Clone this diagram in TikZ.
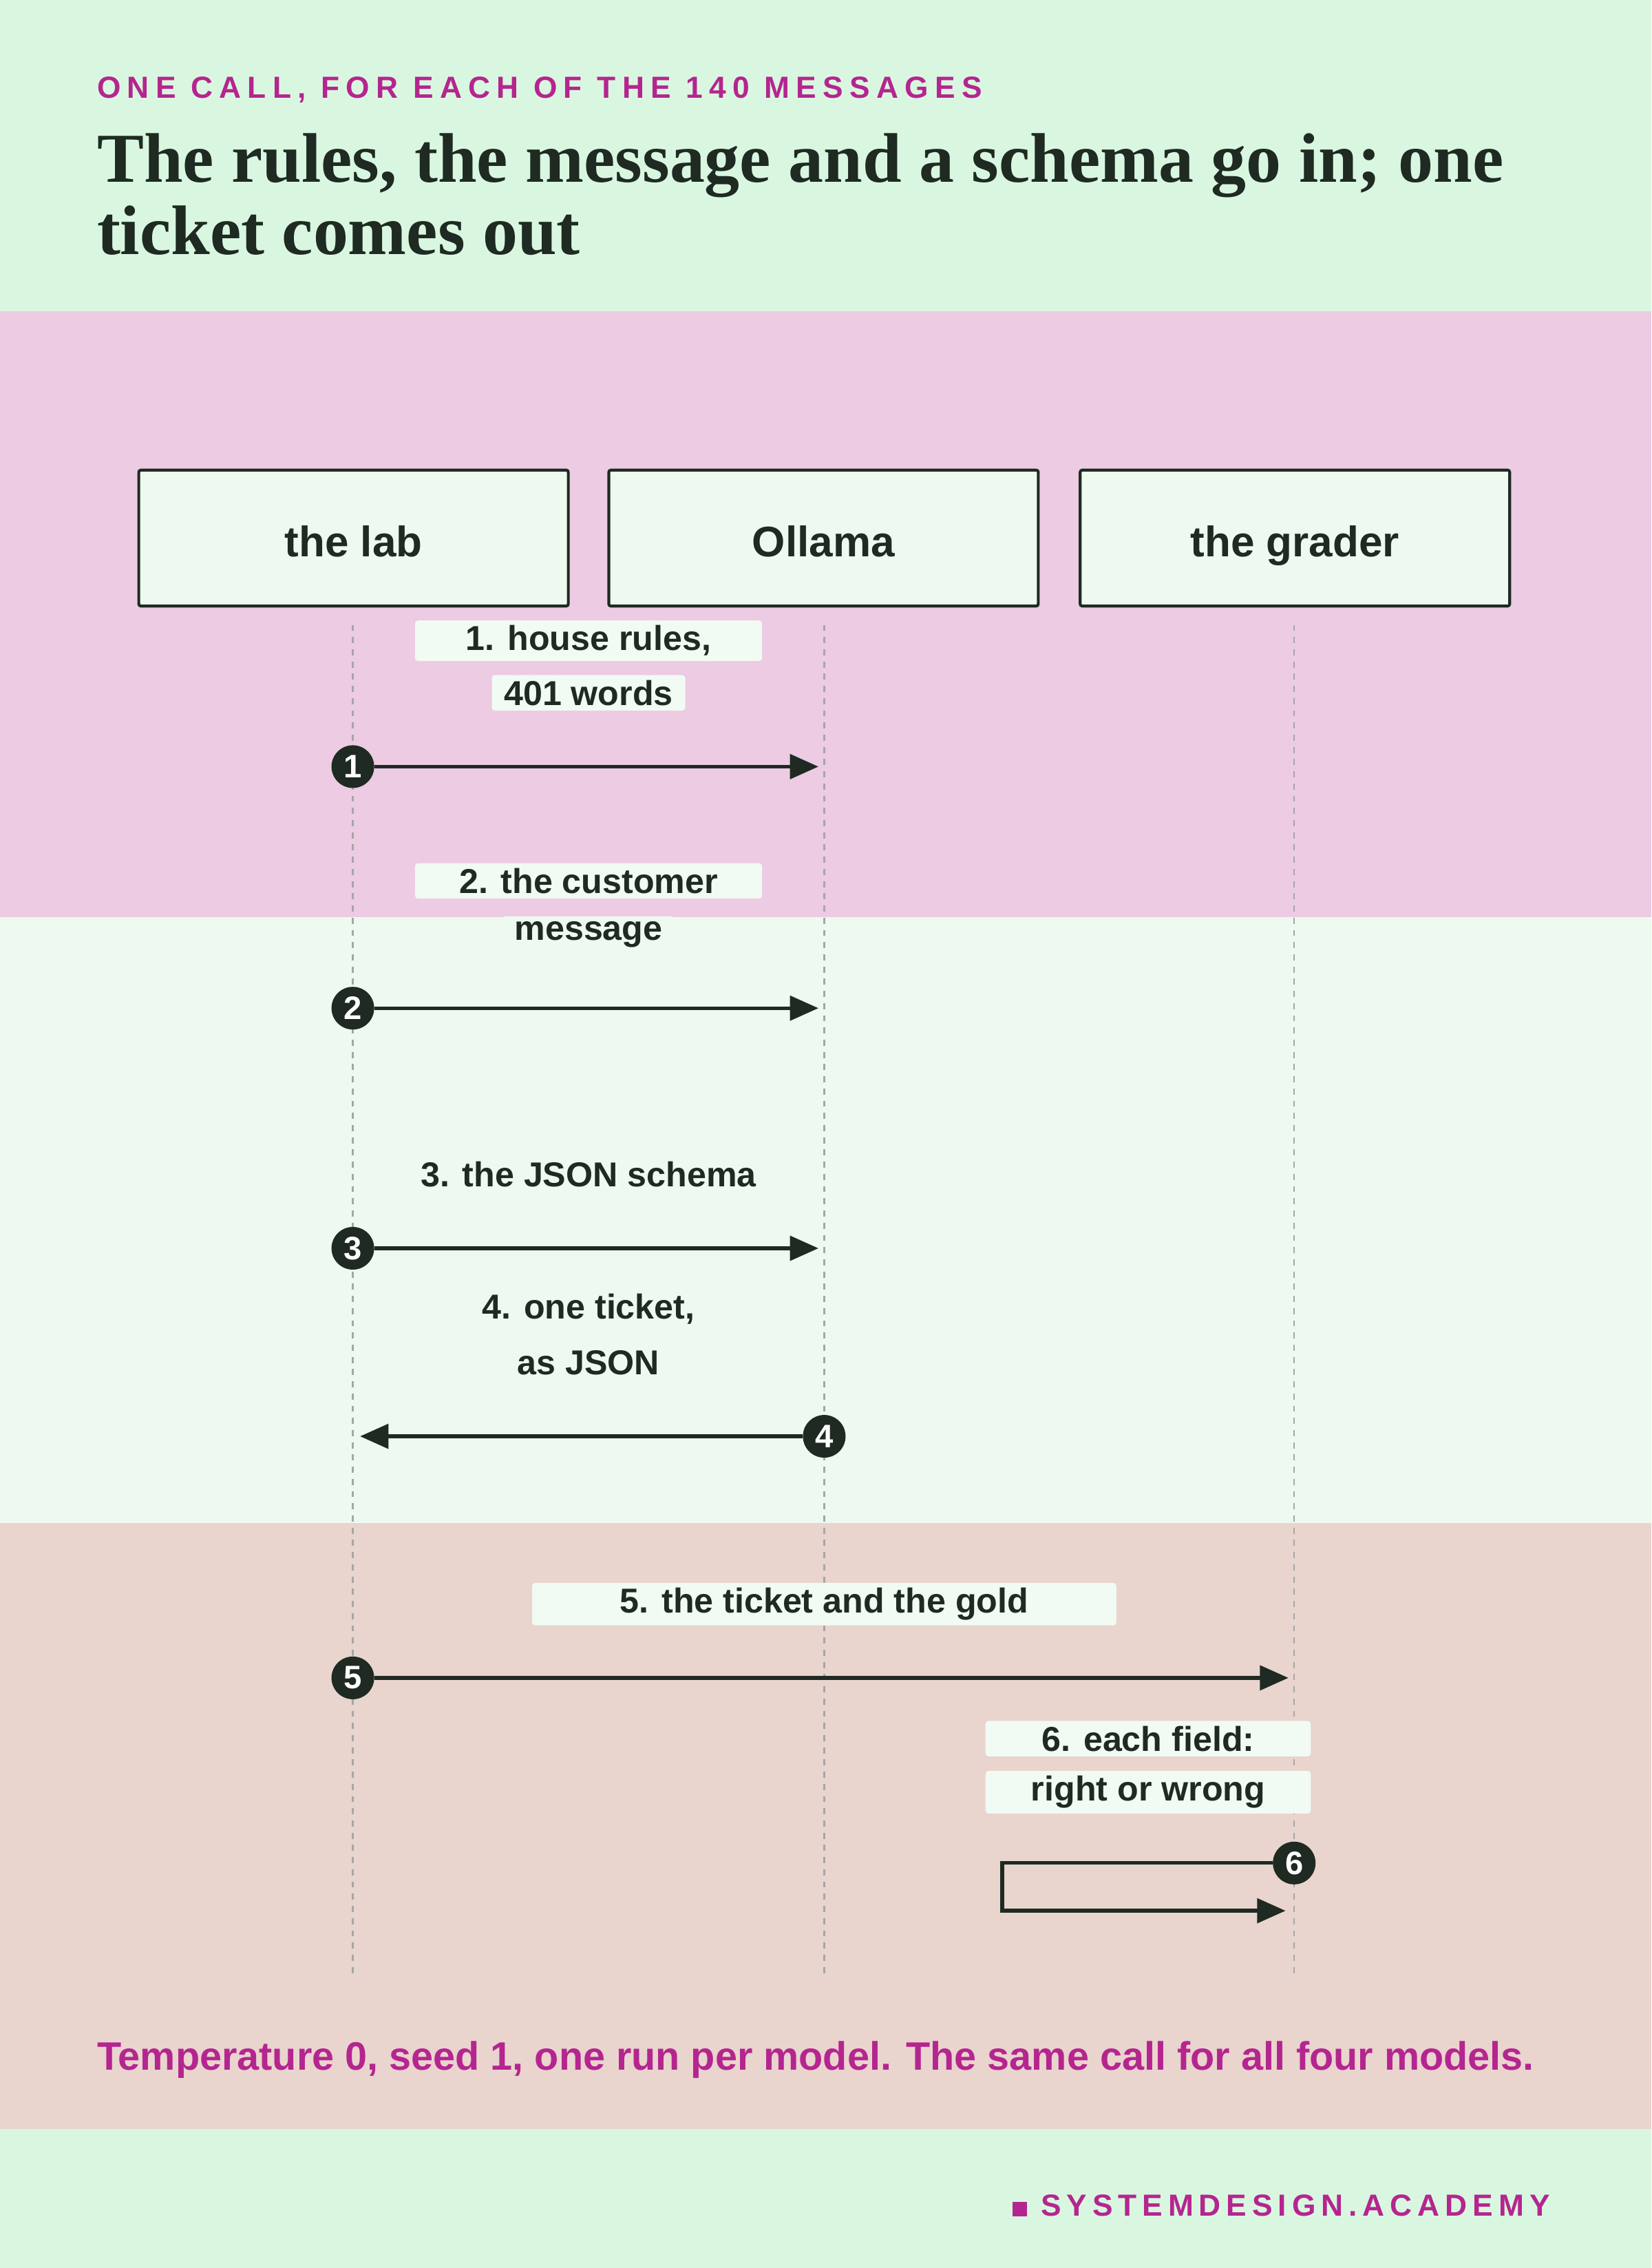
\documentclass[tikz,border=0pt]{standalone}
\usepackage{fontspec}
\setmainfont{Liberation Sans}
\newfontfamily\ttl{Liberation Serif}
\usetikzlibrary{arrows.meta}
\definecolor{topg}{HTML}{D9F7E0}
\definecolor{pinkb}{HTML}{ECCBE3}
\definecolor{lightb}{HTML}{EEF9F0}
\definecolor{brownb}{HTML}{E9D4CE}
\definecolor{mag}{HTML}{B5258F}
\definecolor{ink}{HTML}{1E2A22}
\definecolor{lbl}{HTML}{F1FAF3}
\begin{document}
\begin{tikzpicture}[x=0.05cm,y=-0.05cm,
 actor/.style={draw=ink,line width=2.8pt,fill=lightb,rounded corners=2pt,minimum width=297*0.05cm,minimum height=94*0.05cm},
 atext/.style={font=\fontsize{42}{48}\selectfont\bfseries,text=ink,text depth=0pt,inner sep=0pt},
 lab/.style={fill=lbl,rounded corners=3pt,font=\fontsize{34}{40}\selectfont\bfseries,text=ink,inner xsep=12pt,inner ysep=5pt},
 life/.style={draw=gray!70,dash pattern=on 6pt off 6pt,line width=1.5pt},
 msg/.style={draw=ink,line width=3.6pt,-{Triangle[length=28pt,width=24pt]}},
 num/.style={circle,fill=ink,text=white,inner sep=0pt,minimum size=42pt,font=\fontsize{32}{32}\selectfont\bfseries}]
\fill[topg] (0,0) rectangle (1142,215);
\fill[pinkb] (0,215) rectangle (1142,634);
\fill[lightb] (0,634) rectangle (1142,1053);
\fill[brownb] (0,1053) rectangle (1142,1472);
\fill[topg] (0,1472) rectangle (1142,1568);
\useasboundingbox (0,0) rectangle (1142,1568);
\node[anchor=west,text=mag,font=\fontsize{30}{30}\selectfont\bfseries,inner sep=0pt] (sub) at (67,62) {\addfontfeature{LetterSpace=21}ONE CALL, FOR EACH OF THE 140 MESSAGES};
\node[anchor=north west,text=ink,align=left,inner sep=0pt,font=\fontsize{69}{71}\selectfont\ttl\bfseries] (title) at (67,92) {The rules, the message and a schema go in; one\\ticket comes out};
\node[actor] (a) at (244.5,372) {};
\node[actor] (b) at (569.5,372) {};
\node[actor] (c) at (895.5,372) {};
\node[atext] (at) at (244.5,374) {the lab};
\node[atext] (bt) at (569.5,374) {Ollama};
\node[atext] (ct) at (895.5,374) {the grader};
\coordinate (la) at (244,432); \coordinate (la2) at (244,1365);
\coordinate (lb) at (570,432); \coordinate (lb2) at (570,1365);
\coordinate (lc) at (895,432); \coordinate (lc2) at (895,1365);
\draw[life] (la) -- (la2); \draw[life] (lb) -- (lb2); \draw[life] (lc) -- (lc2);
\node[lab,minimum width=240*0.05cm] (l1a) at (407,443) {1. house rules,};
\node[lab] (l1b) at (407,479) {401 words};
\node[num] (n1) at (244,530) {1}; \coordinate (t1) at (566,530);
\draw[msg] (n1) -- (t1);
\node[lab,minimum width=240*0.05cm] (l2a) at (407,609) {2. the customer};
\node[lab,fill=lightb] (l2b) at (407,646) {message};
\node[num] (n2) at (244,697) {2}; \coordinate (t2) at (566,697);
\draw[msg] (n2) -- (t2);
\node[lab,fill=lightb] (l3) at (407,812) {3. the JSON schema};
\node[num] (n3) at (244,863) {3}; \coordinate (t3) at (566,863);
\draw[msg] (n3) -- (t3);
\node[lab,fill=lightb] (l4a) at (407,905) {4. one ticket,};
\node[lab,fill=lightb] (l4b) at (407,942) {as JSON};
\node[num] (n4) at (570,993) {4}; \coordinate (t4) at (249,993);
\draw[msg] (n4) -- (t4);
\node[lab,minimum width=404*0.05cm] (l5) at (570,1109) {5. the ticket and the gold};
\node[num] (n5) at (244,1160) {5}; \coordinate (t5) at (891,1160);
\draw[msg] (n5) -- (t5);
\node[lab,minimum width=225*0.05cm] (l6a) at (794,1202) {6. each field:};
\node[lab,minimum width=225*0.05cm] (l6b) at (794,1239) {right or wrong};
\node[num] (n6) at (895,1288) {6}; \coordinate (t6) at (889,1321);
\draw[msg] (n6) -- (693,1288) -- (693,1321) -- (t6);
\node[anchor=west,text=mag,font=\fontsize{39}{40}\selectfont\bfseries,inner sep=0pt] (foot) at (67,1424) {Temperature 0, seed 1, one run per model. The same call for all four models.};
\node[anchor=east,text=mag,font=\fontsize{30}{30}\selectfont\bfseries,inner sep=0pt] (brand) at (1072,1525) {{\addfontfeature{LetterSpace=18}\rule{14pt}{14pt}\ SYSTEMDESIGN.ACADEMY}};
\end{tikzpicture}
\end{document}
